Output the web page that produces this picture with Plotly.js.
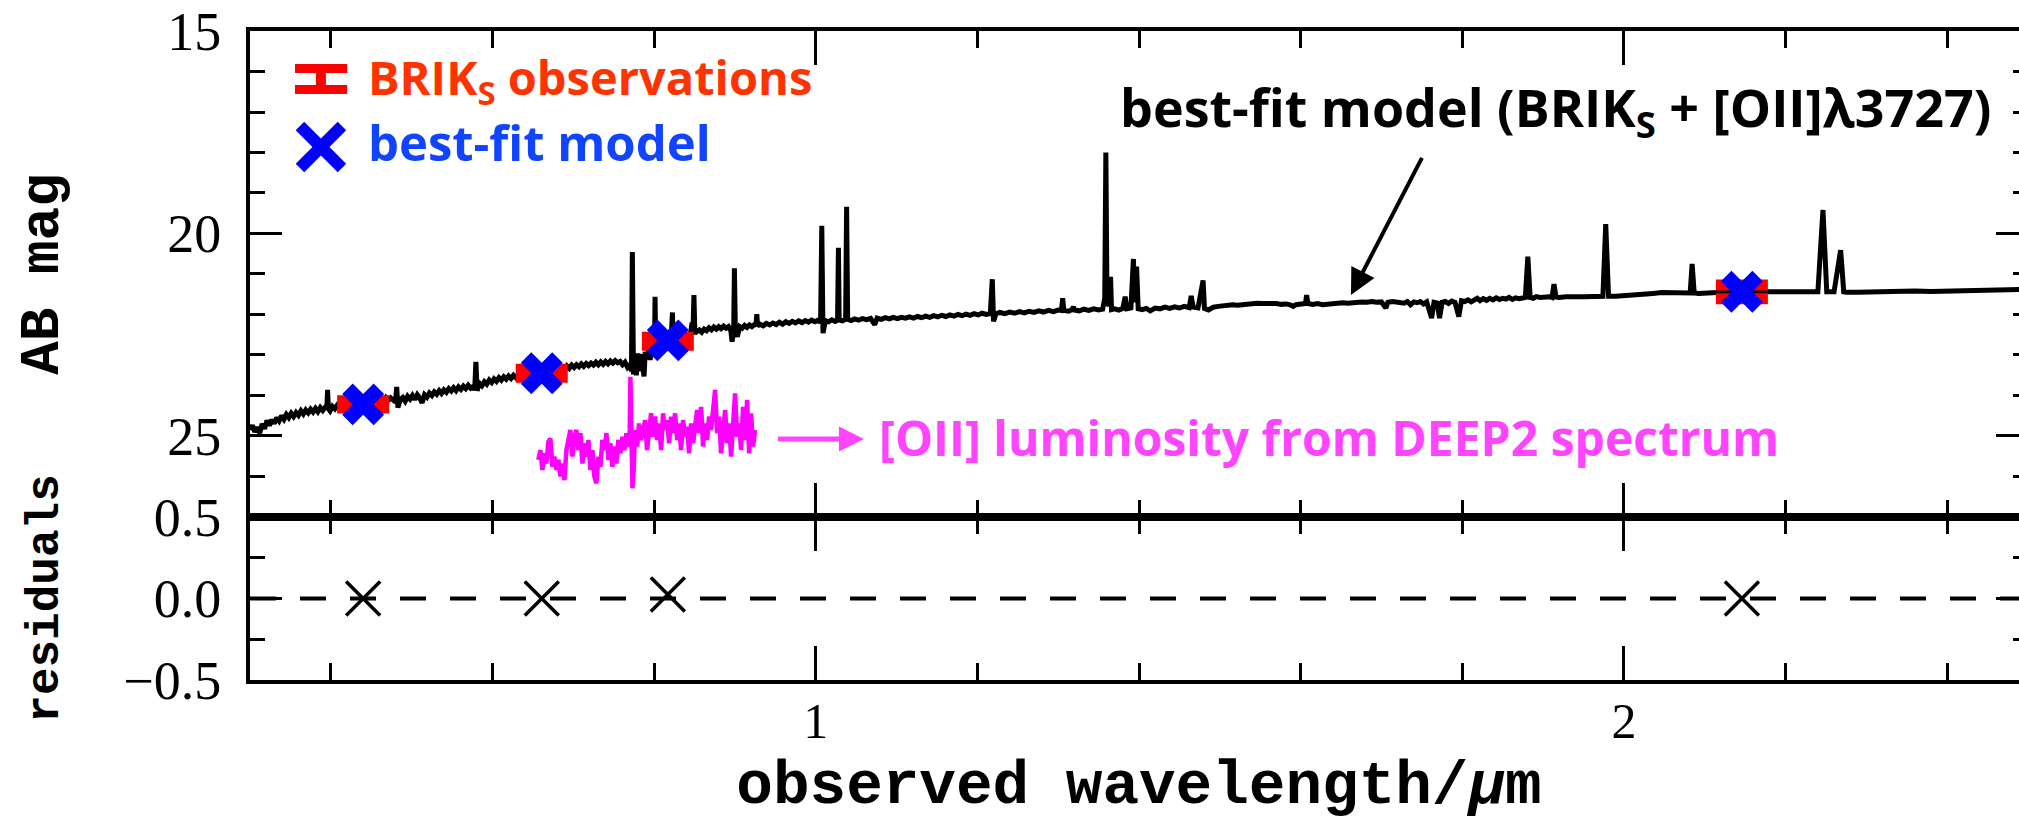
<!DOCTYPE html>
<html><head><meta charset="utf-8">
<script src="https://cdn.plot.ly/plotly-3.0.1.min.js"></script>
<style>
html,body{margin:0;padding:0;overflow:hidden;background:#fff;width:2019px;height:821px}
#chart{width:2030px;height:821px}
</style>
</head><body><div id="chart"></div>
<script>
// ---- best-fit model spectrum (wavelength in micron, AB mag) ----
const modelWave = [
0.300,0.303,0.306,0.309,0.312,0.315,0.318,0.321,0.324,0.327,0.330,0.333,0.336,0.339,0.342,0.345,0.348,0.351,0.354,0.357,
0.360,0.363,0.366,0.369,0.372,0.375,0.378,0.381,0.384,0.387,0.390,0.393,0.395,0.396,0.397,0.399,0.402,0.405,0.408,0.411,
0.414,0.417,0.420,0.423,0.426,0.429,0.432,0.435,0.438,0.441,0.444,0.447,0.450,0.453,0.456,0.459,0.462,0.465,0.468,0.471,
0.474,0.477,0.480,0.4815,0.483,0.486,0.489,0.492,0.495,0.498,0.501,0.504,0.507,0.510,0.513,0.516,0.519,0.522,0.525,0.528,
0.531,0.534,0.537,0.540,0.543,0.546,0.549,0.552,0.555,0.558,0.561,0.564,0.567,0.570,0.573,0.576,0.578,0.5795,0.581,0.584,
0.587,0.590,0.593,0.596,0.599,0.602,0.605,0.608,0.611,0.614,0.617,0.620,0.623,0.626,0.629,0.632,0.635,0.638,0.641,0.644,
0.647,0.650,0.653,0.656,0.659,0.662,0.665,0.668,0.671,0.674,0.677,0.680,0.683,0.686,0.689,0.692,0.695,0.698,0.701,0.704,
0.707,0.710,0.713,0.716,0.719,0.722,0.725,0.728,0.731,0.734,0.737,0.740,0.743,0.746,0.749,0.752,0.755,0.758,0.761,0.764,
0.767,0.770,0.772,0.7731,0.7745,0.776,0.778,0.780,0.782,0.784,0.786,0.7876,0.789,0.791,0.793,0.795,0.797,0.799,0.8005,0.8012,
0.802,0.804,0.806,0.808,0.810,0.812,0.814,0.8165,0.8185,0.821,0.8227,0.8235,0.826,0.829,0.832,0.835,0.838,0.8405,0.8435,0.845,
0.847,0.848,0.8493,0.8505,0.853,0.856,0.859,0.862,0.865,0.868,0.871,0.874,0.877,0.880,0.883,0.886,0.889,0.892,0.895,0.8965,
0.8985,0.8994,0.9005,0.903,0.906,0.909,0.912,0.915,0.918,0.921,0.924,0.926,0.9271,0.928,0.931,0.935,0.939,0.943,0.947,0.951,
0.955,0.959,0.963,0.967,0.971,0.975,0.979,0.983,0.987,0.991,0.995,0.999,1.003,1.006,1.0075,1.009,1.012,1.016,1.020,1.024,
1.027,1.0281,1.029,1.033,1.037,1.0382,1.0395,1.044,1.048,1.053,1.058,1.063,1.068,1.073,1.076,1.081,1.086,1.091,1.096,1.101,
1.106,1.111,1.116,1.121,1.126,1.131,1.136,1.141,1.146,1.151,1.156,1.161,1.166,1.171,1.176,1.181,1.186,1.191,1.196,1.201,
1.206,1.211,1.216,1.2185,1.220,1.223,1.228,1.234,1.240,1.246,1.252,1.258,1.264,1.270,1.276,1.282,1.288,1.294,1.300,1.304,
1.3056,1.307,1.313,1.317,1.3188,1.320,1.326,1.332,1.338,1.344,1.350,1.355,1.3576,1.3590,1.3603,1.3625,1.3648,1.366,1.370,1.375,
1.380,1.3829,1.385,1.390,1.3931,1.395,1.3970,1.399,1.404,1.409,1.4139,1.420,1.426,1.432,1.438,1.444,1.450,1.456,1.462,1.4646,
1.467,1.473,1.4793,1.481,1.486,1.492,1.498,1.504,1.510,1.516,1.522,1.528,1.534,1.540,1.546,1.552,1.558,1.564,1.570,1.576,
1.582,1.588,1.5907,1.594,1.600,1.606,1.6074,1.609,1.615,1.621,1.627,1.634,1.640,1.646,1.652,1.658,1.664,1.670,1.676,1.682,
1.688,1.694,1.700,1.7055,1.708,1.714,1.7233,1.728,1.732,1.736,1.740,1.744,1.748,1.752,1.756,1.7621,1.765,1.769,1.7719,1.775,
1.779,1.783,1.787,1.791,1.7957,1.799,1.803,1.807,1.811,1.815,1.8185,1.822,1.826,1.830,1.834,1.838,1.842,1.846,1.850,1.854,
1.858,1.862,1.866,1.870,1.874,1.878,1.8811,1.884,1.888,1.8916,1.896,1.900,1.904,1.908,1.911,1.9135,1.916,1.920,1.9282,1.935,
1.943,1.951,1.959,1.967,1.974,1.9775,1.981,1.990,2.0012,2.012,2.024,2.036,2.047,2.060,2.072,2.082,2.0844,2.087,2.0927,2.105,
2.118,2.132,2.1462,2.160,2.172,2.1842,2.198,2.212,2.226,2.240,2.2463,2.251,2.260,2.2682,2.272,2.2755,2.290,2.305,2.3212,2.340,
2.360,2.380,2.4035,2.425,2.450,2.475,2.500];
const modelMag = [
24.85,24.74,24.90,24.78,24.93,24.70,24.82,24.62,24.74,24.60,24.69,24.55,24.63,24.50,24.59,24.47,24.55,24.44,24.52,24.42,
24.49,24.38,24.46,24.36,24.43,24.34,24.41,24.32,24.40,24.30,24.37,24.29,24.34,23.86,24.33,24.38,24.27,24.33,24.24,24.30,
24.22,24.28,24.20,24.26,24.18,24.24,24.16,24.22,24.15,24.20,24.13,24.18,24.10,24.16,24.08,24.14,24.07,24.13,24.05,24.12,
24.06,24.10,24.16,23.79,24.30,24.10,24.05,24.14,24.02,24.09,24.00,24.10,23.98,24.06,24.18,23.98,24.04,23.94,24.00,23.91,
23.97,23.88,23.95,23.86,23.92,23.83,23.89,23.81,23.88,23.79,23.85,23.77,23.83,23.75,23.82,23.78,23.86,23.17,23.88,23.70,
23.76,23.66,23.72,23.62,23.68,23.59,23.65,23.56,23.62,23.54,23.60,23.52,23.58,23.50,23.56,23.48,23.54,23.46,23.52,23.44,
23.50,23.42,23.48,23.40,23.46,23.38,23.44,23.35,23.41,23.33,23.39,23.31,23.37,23.29,23.35,23.27,23.33,23.25,23.31,23.24,
23.29,23.22,23.28,23.21,23.26,23.20,23.25,23.18,23.24,23.17,23.23,23.16,23.22,23.15,23.20,23.14,23.19,23.16,23.24,23.18,
23.30,23.22,23.40,20.46,23.48,23.08,23.50,22.96,23.40,22.98,23.20,23.53,22.92,23.05,22.88,23.12,22.86,22.95,22.84,21.56,
22.86,22.80,22.88,22.78,22.84,22.74,22.80,22.70,22.76,22.66,21.95,22.68,22.62,22.70,22.60,22.66,22.55,22.51,22.58,22.48,
22.20,22.50,21.52,22.46,22.42,22.38,22.44,22.36,22.40,22.33,22.38,22.31,22.36,22.30,22.35,22.29,22.34,22.30,22.40,22.67,
22.35,20.86,22.36,22.55,22.30,22.34,22.27,22.32,22.26,22.30,22.25,22.28,21.99,22.28,22.24,22.28,22.22,22.26,22.21,22.25,
22.19,22.24,22.18,22.22,22.17,22.21,22.16,22.20,22.15,22.19,22.14,22.18,22.14,22.20,19.81,22.46,22.15,22.18,22.13,22.17,
22.14,20.35,22.14,22.16,22.12,19.34,22.12,22.15,22.11,22.14,22.10,22.13,22.10,22.25,22.09,22.12,22.08,22.11,22.07,22.10,
22.07,22.09,22.06,22.09,22.05,22.08,22.04,22.07,22.03,22.06,22.02,22.05,22.01,22.04,22.00,22.03,21.99,22.02,21.98,22.01,
21.97,22.00,21.98,21.13,22.17,21.98,21.95,21.98,21.94,21.97,21.93,21.96,21.92,21.95,21.91,21.94,21.90,21.93,21.89,21.90,
21.60,21.90,21.92,21.88,21.81,21.89,21.91,21.87,21.90,21.86,21.89,21.87,21.60,18.00,21.40,21.80,21.07,21.88,21.86,21.89,
21.85,21.56,21.86,21.84,20.63,21.70,20.82,21.86,21.88,21.85,21.91,21.84,21.86,21.82,21.85,21.81,21.84,21.80,21.83,21.54,
21.82,21.84,21.16,21.85,21.89,21.82,21.80,21.78,21.79,21.76,21.77,21.75,21.76,21.73,21.72,21.73,21.72,21.74,21.73,21.75,
21.74,21.77,21.80,21.76,21.74,21.73,21.52,21.73,21.75,21.73,21.76,21.74,21.72,21.73,21.71,21.72,21.70,21.71,21.69,21.70,
21.68,21.70,21.69,21.84,21.70,21.68,21.70,21.72,21.68,21.76,21.69,21.71,21.68,21.74,21.69,22.09,21.70,21.72,22.09,21.70,
21.68,21.73,21.67,21.70,22.05,21.66,21.68,21.64,21.69,21.63,21.60,21.66,21.61,21.65,21.60,21.64,21.59,21.63,21.60,21.62,
21.58,21.63,21.59,21.61,21.60,21.58,20.57,21.58,21.60,21.56,21.58,21.57,21.59,21.56,21.58,21.25,21.57,21.58,21.56,21.57,
21.56,21.56,21.55,21.56,21.55,19.77,21.55,21.55,21.54,21.52,21.51,21.48,21.46,21.47,21.48,21.47,20.75,21.47,21.48,21.46,
21.45,21.44,21.44,21.44,21.44,21.44,21.44,21.43,21.44,21.44,19.42,21.44,21.44,20.41,21.44,21.45,21.45,21.44,21.43,21.43,
21.42,21.43,21.42,21.41,21.40,21.39,21.38];

// ---- DEEP2 spectrum (scaled, magenta) ----
const deepWave = [
0.6568,0.6593,0.6618,0.6643,0.6667,0.6692,0.6717,0.6742,0.6766,0.6791,0.6816,0.6841,0.6865,0.6890,0.6915,0.6940,0.6964,0.6989,0.7014,0.7039,
0.7063,0.7088,0.7113,0.7138,0.7162,0.7187,0.7212,0.7237,0.7261,0.7286,0.7311,0.7336,0.7360,0.7385,0.7410,0.7435,0.7459,0.7484,0.7509,0.7534,
0.7558,0.7583,0.7608,0.7633,0.7657,0.7682,0.7699,0.7707,0.7715,0.7732,0.7748,0.7765,0.7790,0.7814,0.7839,0.7864,0.7889,0.7913,0.7938,0.7963,
0.7988,0.8012,0.8037,0.8062,0.8087,0.8111,0.8136,0.8161,0.8186,0.8210,0.8235,0.8260,0.8285,0.8309,0.8334,0.8359,0.8384,0.8408,0.8433,0.8458,
0.8483,0.8507,0.8532,0.8557,0.8582,0.8606,0.8631,0.8656,0.8681,0.8705,0.8730,0.8755,0.8780,0.8804,0.8829,0.8854,0.8879,0.8903,0.8928,0.8953,
0.8978,0.9002,0.9027,0.9052,0.9077,0.9101,0.9126,0.9151,0.9176,0.9200,0.9225,0.9250];
const deepMag = [
25.59,25.35,25.84,25.43,25.68,25.14,25.06,25.76,25.51,25.84,25.59,26.00,25.68,26.09,25.35,25.10,24.85,25.51,25.02,24.85,
25.35,24.93,25.68,25.18,25.51,25.10,25.84,25.35,26.00,26.17,25.51,25.76,25.10,25.35,24.93,25.59,25.18,25.76,25.26,25.68,
25.10,25.43,25.02,25.35,24.93,25.26,24.85,23.54,25.02,26.29,25.84,24.85,25.26,24.69,25.10,24.77,24.61,25.35,24.85,24.44,
25.02,24.52,25.10,24.69,25.35,24.44,24.85,24.61,25.18,24.52,24.93,24.44,25.10,24.69,25.35,24.61,25.02,24.77,25.43,24.69,
25.18,24.85,24.36,24.93,24.28,25.26,24.69,25.10,24.52,24.85,24.44,23.86,24.93,24.52,25.43,24.85,24.36,25.18,24.69,25.51,
24.44,23.95,25.02,24.69,25.35,24.28,25.10,24.11,25.43,24.44,25.26,24.85];

// ---- broad-band photometry (B, R, I, Ks) ----
const bandWave = [0.440, 0.661, 0.817, 2.146];
const obsMag   = [24.22, 23.45, 22.66, 21.44];
const obsErr   = [0.09, 0.10, 0.10, 0.17];
const fitMag   = [24.22, 23.45, 22.64, 21.44];
const residual = [0.00, 0.00, 0.025, 0.00];

const xRange = [0.3, 2.5];
const magRange = [27, 15];
const resRange = [-0.5, 0.5];

const annFont = 'Open Sans';
const traces = [
  {x: modelWave, y: modelMag, xaxis: 'x', yaxis: 'y', mode: 'lines', type: 'scatter',
   line: {color: '#000000', width: 5}, hoverinfo: 'skip', showlegend: false},
  {x: deepWave, y: deepMag, xaxis: 'x', yaxis: 'y', mode: 'lines', type: 'scatter',
   line: {color: '#ff00ff', width: 4.5}, hoverinfo: 'skip', showlegend: false},
  {x: bandWave, y: obsMag, xaxis: 'x', yaxis: 'y', mode: 'markers', type: 'scatter',
   marker: {size: 1, color: 'rgba(0,0,0,0)'},
   error_y: {type: 'data', array: obsErr, visible: true, color: '#ff0000', thickness: 11, width: 26},
   showlegend: false},
  {x: bandWave, y: fitMag, xaxis: 'x', yaxis: 'y', mode: 'markers', type: 'scatter',
   marker: {symbol: 'x', size: 37, color: '#0000ff', line: {width: 0}}, showlegend: false},
  {x: bandWave, y: residual, xaxis: 'x2', yaxis: 'y2', mode: 'markers', type: 'scatter',
   marker: {symbol: 'x-thin', size: 34, color: '#000', line: {width: 3.5, color: '#000'}}, showlegend: false}
];

const yTickFont = {family: 'Liberation Serif', size: 54, color: '#000'};
const xTickFont = {family: 'Liberation Serif', size: 50, color: '#000'};
const xCommon = {range: xRange, showline: true, linewidth: 4, linecolor: '#000', mirror: 'allticks',
  ticks: 'inside', ticklen: 34, tickwidth: 3, tickcolor: '#000', tick0: 0, dtick: 1,
  minor: {ticks: 'inside', ticklen: 17, tickwidth: 3, tickcolor: '#000', dtick: 0.2},
  showgrid: false, zeroline: false, fixedrange: true};

const layout = {
  width: 2030, height: 821,
  margin: {l: 250, r: 2, t: 31, b: 141},
  paper_bgcolor: '#fff', plot_bgcolor: '#fff',
  showlegend: false,
  xaxis: Object.assign({}, xCommon, {anchor: 'y', showticklabels: false}),
  xaxis2: Object.assign({}, xCommon, {anchor: 'y2', matches: 'x', showticklabels: true,
    tickfont: xTickFont, ticklabelstandoff: -6,
    title: {text: 'observed wavelength/<i>μ</i>m',
            font: {family: 'Liberation Mono', size: 61, color: '#000', weight: 'bold'}, standoff: 24}}),
  yaxis: {domain: [0.2512, 1], range: magRange, showline: true, linewidth: 4, linecolor: '#000', mirror: 'allticks',
    ticks: 'inside', ticklen: 32, tickwidth: 3, tickcolor: '#000', tick0: 15, dtick: 5,
    minor: {ticks: 'inside', ticklen: 15, tickwidth: 3, tickcolor: '#000', dtick: 1},
    showgrid: false, zeroline: false, tickfont: yTickFont, ticklabelstandoff: 14, anchor: 'x',
    title: {text: 'AB mag', font: {family: 'Liberation Mono', size: 56, color: '#000', weight: 'bold'}, standoff: 92}},
  yaxis2: {domain: [0, 0.2512], range: resRange, showline: true, linewidth: 4, linecolor: '#000', mirror: 'allticks',
    ticks: 'inside', ticklen: 32, tickwidth: 3, tickcolor: '#000', tick0: 0, dtick: 0.5, tickformat: '.1f',
    minor: {ticks: 'inside', ticklen: 15, tickwidth: 3, tickcolor: '#000', dtick: 0.25},
    showgrid: false, zeroline: false, tickfont: yTickFont, ticklabelstandoff: 14, anchor: 'x2',
    title: {text: 'residuals', font: {family: 'Liberation Mono', size: 46, color: '#000', weight: 'bold'}, standoff: 51}},
  shapes: [
    {type: 'line', xref: 'x2 domain', yref: 'y2', x0: 0, x1: 1, y0: 0, y1: 0,
     line: {color: '#000', width: 4, dash: '26px,24px'}, layer: 'below'},
    // legend symbols
    {type: 'rect', xref: 'paper', yref: 'paper', x0: 0.0253, x1: 0.0546, y0: 0.9353, y1: 0.9492, fillcolor: '#ff0000', line: {width: 0}},
    {type: 'rect', xref: 'paper', yref: 'paper', x0: 0.0253, x1: 0.0546, y0: 0.9029, y1: 0.9168, fillcolor: '#ff0000', line: {width: 0}},
    {type: 'rect', xref: 'paper', yref: 'paper', x0: 0.0371, x1: 0.0427, y0: 0.9160, y1: 0.9360, fillcolor: '#ff0000', line: {width: 0}},
    {type: 'line', xref: 'paper', yref: 'paper', x0: 0.0281, x1: 0.0517, y0: 0.8536, y1: 0.7889, line: {color: '#0000ff', width: 12}},
    {type: 'line', xref: 'paper', yref: 'paper', x0: 0.0281, x1: 0.0517, y0: 0.7889, y1: 0.8536, line: {color: '#0000ff', width: 12}}
  ],
  annotations: [
    {xref: 'paper', yref: 'paper', x: 0.0652, y: 0.9245, xanchor: 'left', yanchor: 'middle', showarrow: false,
     text: 'BRIK<sub>S</sub> observations', font: {family: annFont, size: 47, color: '#ff3300', weight: 'bold'}},
    {xref: 'paper', yref: 'paper', x: 0.0652, y: 0.8290, xanchor: 'left', yanchor: 'middle', showarrow: false,
     text: 'best-fit model', font: {family: annFont, size: 49, color: '#1144ff', weight: 'bold'}},
    {xref: 'paper', yref: 'paper', x: 0.734, y: 0.8783, xanchor: 'center', yanchor: 'middle', showarrow: false,
     text: 'best-fit model (BRIK<sub>S</sub> + [OII]λ3727)', font: {family: annFont, size: 52, color: '#000', weight: 'bold'}},
    {xref: 'paper', yref: 'paper', x: 0.6192, y: 0.5932, ax: 74, ay: -143, text: ' ', showarrow: true,
     arrowhead: 2, arrowsize: 1.3, arrowwidth: 4, arrowcolor: '#000', standoff: 0},
    {xref: 'paper', yref: 'paper', x: 0.3526, y: 0.3744, xanchor: 'left', yanchor: 'middle', showarrow: false,
     text: '[OII] luminosity from DEEP2 spectrum', font: {family: annFont, size: 48, color: '#ff44ff', weight: 'bold'}},
    {xref: 'paper', yref: 'paper', x: 0.3453, y: 0.3713, ax: -89, ay: 0, text: ' ', showarrow: true,
     arrowhead: 2, arrowsize: 1.0, arrowwidth: 5, arrowcolor: '#ff44ff', standoff: 0}
  ]
};

Plotly.newPlot('chart', traces, layout, {displayModeBar: false, responsive: false, staticPlot: true});
</script></body></html>
